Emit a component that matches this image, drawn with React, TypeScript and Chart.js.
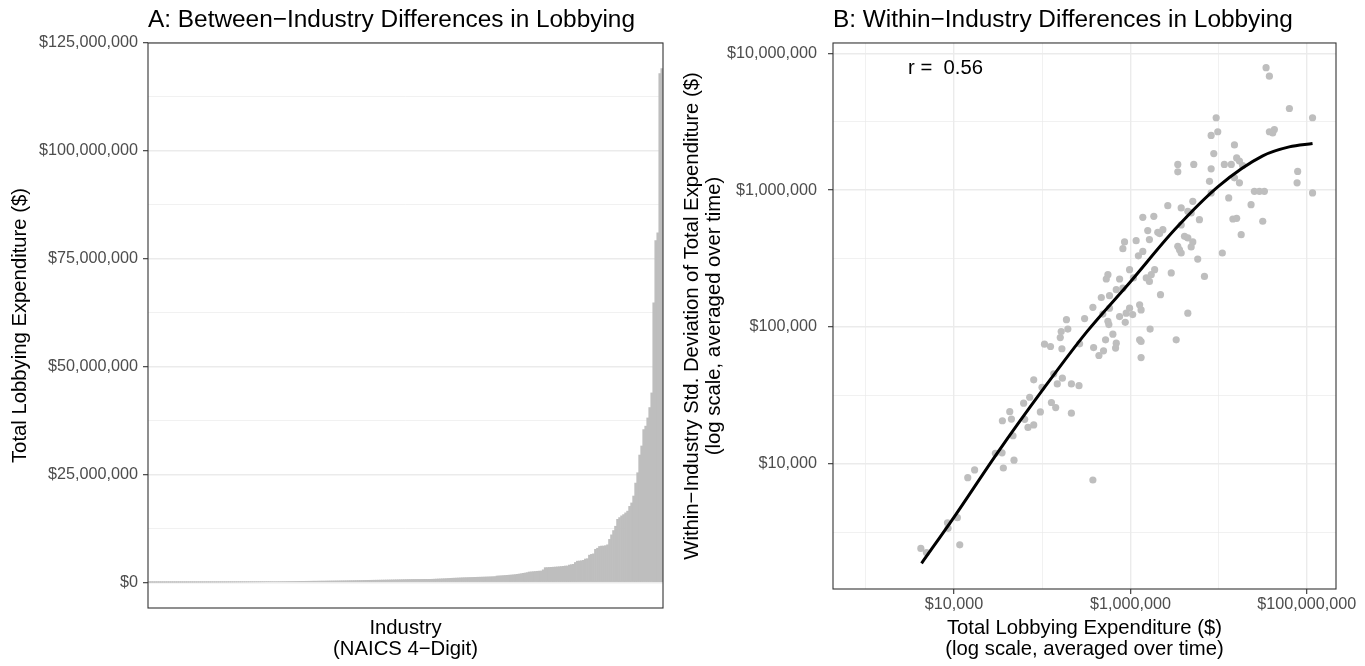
import React, { useEffect, useRef } from "react";
import { Chart, registerables } from "chart.js";

Chart.register(...registerables);

const FONT_FAMILY = '"Liberation Sans", Arial, Helvetica, sans-serif';
const TITLE_SIZE = 24.4;
const AXIS_TITLE_SIZE = 20.3;
const TICK_SIZE = 16.2;
const TICK_COLOR = "#4D4D4D";
const TICK_MARK_COLOR = "#333333";
const GRID_COLOR = "#EBEBEB";
const MARK_COLOR = "#BEBEBE";

// ---------------- Panel A ----------------
const PANEL_A_TITLE = "A: Between\u2212Industry Differences in Lobbying";
const PANEL_A_Y_TITLE = "Total Lobbying Expenditure ($)";
const PANEL_A_X_TITLE = ["Industry", "(NAICS 4\u2212Digit)"];

// Total lobbying expenditure by NAICS 4-digit industry, sorted ascending (thousands of $)
const INDUSTRY_TOTALS_LOW_K = [
  1, 2, 3, 5, 6, 8, 9, 11, 12, 14,
  15, 17, 19, 20, 22, 24, 25, 27, 29, 31,
  33, 35, 37, 39, 41, 43, 45, 47, 50, 52,
  54, 57, 59, 62, 64, 67, 70, 72, 75, 78,
  81, 84, 87, 90, 93, 96, 100, 103, 106, 110,
  113, 117, 121, 124, 128, 132, 136, 140, 144, 148,
  152, 157, 161, 165, 170, 174, 179, 183, 188, 193,
  198, 203, 208, 213, 218, 224, 229, 235, 240, 246,
  252, 258, 264, 270, 276, 282, 288, 295, 301, 308,
  315, 321, 328, 335, 342, 350, 357, 364, 372, 380,
];
const INDUSTRY_TOTALS_MID_K = [
  387, 395, 403, 411, 419, 427, 436, 444, 453, 461,
  470, 479, 488, 497, 506, 515, 525, 534, 544, 553,
  563, 573, 583, 593, 603, 613, 624, 634, 645, 655,
  661, 668, 672, 676, 679, 682, 684, 686, 688, 690,
  690, 712, 735, 760, 784, 806, 830, 853, 877, 900,
  925, 950, 972, 995, 1018, 1042, 1066, 1085, 1098, 1112,
  1125, 1140, 1155, 1170, 1186, 1202, 1218, 1235, 1252, 1270,
  1290, 1312, 1335, 1460, 1490, 1520, 1555, 1590, 1625, 1660,
  1700, 1740, 1790, 1850, 1920, 2000, 2080, 2160, 2250, 2390,
  2430, 2470, 2510, 2560, 2600, 2620, 2900, 3400, 3420, 3450,
];
const INDUSTRY_TOTALS_HIGH_K = [
  3480, 3510, 3540, 3580, 3620, 3660, 3700, 3780, 3790, 4000,
  4100, 4170, 4600, 4900, 4940, 5000, 5100, 5400, 5480, 6300,
  6480, 6600, 7640, 7900, 8300, 8400, 8410, 8500, 8700, 9950,
  11000, 12000, 13000, 14600, 15000, 15400, 15700, 16100, 16500, 17600,
  18400, 20000, 23000, 25400, 29500, 31600, 35400, 36200, 38100, 40500,
  43900, 64800, 79200, 81000, 117900, 119050,
];

const PANEL_A_Y_MIN = -5952381;
const PANEL_A_Y_MAX = 125000000;
const PANEL_A_Y_TICKS = [
  0, 12500000, 25000000, 37500000, 50000000, 62500000, 75000000, 87500000,
  100000000, 112500000, 125000000,
];
const PANEL_A_Y_LABELED = [0, 25000000, 50000000, 75000000, 100000000, 125000000];

// ---------------- Panel B ----------------
const PANEL_B_TITLE = "B: Within\u2212Industry Differences in Lobbying";
const PANEL_B_Y_TITLE = [
  "Within\u2212Industry Std. Deviation of Total Expenditure ($)",
  "(log scale, averaged over time)",
];
const PANEL_B_X_TITLE = ["Total Lobbying Expenditure ($)", "(log scale, averaged over time)"];

// Industry total expenditure (x) and within-industry std. deviation (y), in $
const INDUSTRY_SPEND = [
  3.45e7, 3.76e7, 6.34e7, 1.16e8, 9.37e6, 8.22e6, 9.77e6, 3.76e7, 4.28e7, 4.1e7,
  1.51e7, 8.8e6, 1.6e7, 1.72e7, 1.87e7, 1.16e7, 1.39e7, 3.44e6, 3.44e6, 5.22e6,
  8.22e6, 7.87e7, 7.75e7, 1.51e7, 1.72e7, 7.87e6, 2.54e7, 2.9e7, 3.3e7, 1.16e8,
  8.22e6, 1.3e7, 2.33e7, 2.65e6, 3.76e6, 5.09e6, 4.47e6, 4.88e6, 6.05e6, 1.45e7,
  1.6e7, 3.16e7, 1.38e6, 1.84e6, 3.76e6, 1.8e7, 1.57e6, 2.04e6, 2.33e6, 2.14e6,
  1.64e6, 4.1e6, 4.47e6, 8.57e5, 1.16e6, 8.2e5, 3.44e6, 3.6e6, 5.09e6, 4.88e6,
  3.76e6, 1.38e6, 1.23e6, 1.1e7, 5.79e6, 9.77e5, 1.88e6, 1.72e6, 2.9e6, 5.55e5,
  5.32e5, 7.53e5, 1.08e6, 1.51e6, 1.64e6, 6.9e6, 6.9e5, 8.2e5, 5.79e5, 4.67e5,
  2.19e6, 3.75e5, 5.79e5, 9.77e5, 1.27e6, 1.32e6, 4.47e6, 1.88e5, 3.02e5,
  7.53e5, 8.95e5, 1.06e6, 8.73e5, 4.86e5, 1.95e5, 1.64e5, 1.6e5, 1.67e5, 5.55e5,
  5.69e5, 1.67e6, 6.32e5, 5.22e5, 1.27e6, 1.32e6, 3.3e6, 6.9e5, 6.78e5, 2.65e5,
  3.82e5, 1.06e5, 1.24e5, 4.95e5, 4.39e5, 1.32e6, 8.0e4, 1.35e5, 1.69e5, 1.48e5,
  2.14e5, 2.61e5, 9.93e4, 7.2e4, 6.15e4, 1.27e5, 1.42e5, 4.28e4, 3.53e4, 4.47e4,
  9.51e4, 6.32e4, 2.14e5, 8.0e4, 6.89e4, 4.66e4, 2.94e4, 3.5e4, 4.78e4, 3.62e4,
  1.71e4, 1.43e4, 3.75e5, 1.09e4, 8.42e3, 8.55e3, 1.16e4, 4.2e3, 4.86e3,
];
const INDUSTRY_SD = [
  7.85e6, 6.81e6, 3.95e6, 3.38e6, 3.38e6, 2.51e6, 2.67e6, 2.67e6, 2.77e6, 2.62e6,
  2.14e6, 1.85e6, 1.72e6, 1.63e6, 1.51e6, 1.54e6, 1.54e6, 1.54e6, 1.36e6, 1.54e6,
  1.43e6, 1.37e6, 1.13e6, 1.23e6, 1.13e6, 1.16e6, 9.8e5, 9.8e5, 9.8e5, 9.53e5,
  9.53e5, 8.77e5, 7.83e5, 7.7e5, 7.41e5, 8.28e5, 7.0e5, 6.81e5, 6.08e5, 6.15e5,
  6.22e5, 5.92e5, 6.32e5, 6.43e5, 5.56e5, 4.72e5, 5.06e5, 4.91e5, 5.14e5, 4.81e5,
  4.35e5, 4.59e5, 4.47e5, 4.18e5, 4.27e5, 3.73e5, 3.88e5, 3.66e5, 4.18e5, 3.84e5,
  3.47e5, 3.56e5, 3.31e5, 3.47e5, 3.13e5, 2.62e5, 2.62e5, 2.41e5, 2.48e5, 2.41e5,
  2.24e5, 2.24e5, 2.28e5, 2.28e5, 2.15e5, 2.34e5, 1.87e5, 1.92e5, 1.69e5, 1.64e5,
  1.72e5, 1.39e5, 1.37e5, 1.37e5, 1.45e5, 1.33e5, 1.26e5, 1.13e5, 1.15e5,
  1.19e5, 1.26e5, 1.23e5, 1.08e5, 1.24e5, 9.64e4, 9.25e4, 8.36e4, 6.92e4, 1.1e5,
  1.04e5, 9.64e4, 8.85e4, 8.05e4, 8.05e4, 7.82e4, 8.05e4, 7.6e4, 7.0e4, 7.52e4,
  7.06e4, 7.48e4, 7.19e4, 6.68e4, 6.18e4, 5.97e4, 4.1e4, 4.54e4, 4.22e4, 3.83e4,
  3.83e4, 3.72e4, 3.62e4, 3.06e4, 2.77e4, 2.8e4, 2.57e4, 2.4e4, 2.06e4, 2.12e4,
  2.39e4, 2.11e4, 2.34e4, 1.92e4, 1.84e4, 1.6e4, 1.19e4, 1.2e4, 1.06e4, 9.3e3,
  9.0e3, 7.9e3, 7.6e3, 4.03e3, 3.7e3, 3.37e3, 2.55e3, 2.4e3, 2.24e3,
];

// Smoothed fit (loess)
const SMOOTH_SPEND = [4280, 1e4, 31600, 1e5, 316000, 1e6, 3.16e6, 1e7, 3.16e7, 6.31e7, 1.16e8];
const SMOOTH_SD = [1870, 4070, 12200, 34300, 91200, 214000, 513000, 1.07e6, 1.78e6, 2.07e6, 2.19e6];

const R_LABEL_TEXT = "r =  0.56";
const R_LABEL_X = 8000;
const R_LABEL_Y = 7.75e6;

const PANEL_B_X_MIN = 424;
const PANEL_B_X_MAX = 2.14e8;
const PANEL_B_X_TICKS = [1e3, 1e4, 1e5, 1e6, 1e7, 1e8];
const PANEL_B_X_LABELED = [1e4, 1e6, 1e8];
const PANEL_B_Y_MIN = 1213;
const PANEL_B_Y_MAX = 1.19e7;
const PANEL_B_Y_TICKS = [3162.2777, 1e4, 31622.777, 1e5, 316227.77, 1e6, 3162277.7, 1e7];
const PANEL_B_Y_LABELED = [1e4, 1e5, 1e6, 1e7];

const dollars = (v: number) => "$" + Math.round(v).toLocaleString("en-US");

const panelBorder = {
  id: "panelBorder",
  afterDatasetsDraw(chart: any) {
    const { ctx, chartArea } = chart;
    ctx.save();
    ctx.strokeStyle = TICK_MARK_COLOR;
    ctx.lineWidth = 1.1;
    ctx.strokeRect(chartArea.left, chartArea.top, chartArea.right - chartArea.left, chartArea.bottom - chartArea.top);
    ctx.restore();
  },
};

const rLabel = {
  id: "rLabel",
  afterDatasetsDraw(chart: any) {
    const { ctx, scales } = chart;
    const x = scales.x.getPixelForValue(R_LABEL_X);
    const y = scales.y.getPixelForValue(R_LABEL_Y);
    ctx.save();
    ctx.font = `${AXIS_TITLE_SIZE}px ${FONT_FAMILY}`;
    ctx.fillStyle = "#000000";
    ctx.textAlign = "center";
    ctx.textBaseline = "middle";
    ctx.fillText(R_LABEL_TEXT, x, y);
    ctx.restore();
  },
};

const tickFont = { family: FONT_FAMILY, size: TICK_SIZE };
const axisTitleFont = { family: FONT_FAMILY, size: AXIS_TITLE_SIZE, lineHeight: 1.05 };
const titleFont = { family: FONT_FAMILY, size: TITLE_SIZE, weight: "normal" as const, lineHeight: 1.2 };

function PanelA() {
  const ref = useRef<HTMLCanvasElement>(null);
  useEffect(() => {
    const totals = [...INDUSTRY_TOTALS_LOW_K, ...INDUSTRY_TOTALS_MID_K, ...INDUSTRY_TOTALS_HIGH_K].map((v) => v * 1000);
    const isMajor = (v: any) => PANEL_A_Y_LABELED.includes(v);
    const chart = new Chart(ref.current as HTMLCanvasElement, {
      type: "bar",
      data: {
        datasets: [
          {
            data: totals.map((v, i) => ({ x: i, y: v })),
            backgroundColor: MARK_COLOR,
            borderWidth: 0,
            barPercentage: 1,
            categoryPercentage: 1,
          } as any,
        ],
      },
      options: {
        responsive: false,
        animation: false,
        devicePixelRatio: 1,
        layout: { padding: { left: 0, right: 19, top: 0, bottom: 0 }, autoPadding: false },
        plugins: {
          legend: { display: false },
          tooltip: { enabled: false },
          title: {
            display: true,
            text: PANEL_A_TITLE,
            align: "start",
            fullSize: false,
            color: "#000000",
            font: titleFont,
            padding: { top: 5.4, bottom: 8.3 },
          },
        },
        scales: {
          x: {
            type: "linear",
            min: -0.6,
            max: totals.length - 0.4,
            offset: false,
            bounds: "data",
            ticks: { display: false },
            grid: { display: false, drawTicks: false },
            border: { display: false },
            title: {
              display: true,
              text: PANEL_A_X_TITLE,
              color: "#000000",
              font: axisTitleFont,
              padding: { top: 0, bottom: 6 },
            },
            afterFit: (s: any) => {
              s.height = 58;
              s.paddingLeft = 0;
              s.paddingRight = 0;
            },
          },
          y: {
            type: "linear",
            min: PANEL_A_Y_MIN,
            max: PANEL_A_Y_MAX,
            bounds: "data",
            afterBuildTicks: (s: any) => {
              s.ticks = PANEL_A_Y_TICKS.map((v) => ({ value: v }));
            },
            ticks: {
              autoSkip: false,
              padding: 5,
              color: TICK_COLOR,
              font: tickFont,
              callback: (v: any) => (isMajor(v) ? dollars(v) : ""),
            },
            grid: {
              color: GRID_COLOR,
              lineWidth: (c: any) => (isMajor(c.tick && c.tick.value) ? 1.4 : 0.7),
              drawTicks: true,
              tickLength: 5,
              tickWidth: 1.1,
              tickColor: (c: any) => (isMajor(c.tick && c.tick.value) ? TICK_MARK_COLOR : "rgba(0,0,0,0)"),
            },
            border: { display: false },
            title: {
              display: true,
              text: PANEL_A_Y_TITLE,
              color: "#000000",
              font: axisTitleFont,
              padding: { top: 9.3, bottom: 0 },
            },
            afterFit: (s: any) => {
              s.width = 148;
              s.paddingTop = 0;
              s.paddingBottom = 0;
            },
          },
        },
      } as any,
      plugins: [panelBorder],
    });
    return () => chart.destroy();
  }, []);
  return (
    <canvas
      ref={ref}
      width={682}
      height={666}
      style={{ position: "absolute", left: 0, top: 0, width: 682, height: 666 }}
    />
  );
}

function PanelB() {
  const ref = useRef<HTMLCanvasElement>(null);
  useEffect(() => {
    const xMajor = (v: any) => PANEL_B_X_LABELED.includes(v);
    const yMajor = (v: any) => PANEL_B_Y_LABELED.includes(v);
    const chart = new Chart(ref.current as HTMLCanvasElement, {
      type: "scatter",
      data: {
        datasets: [
          {
            type: "line",
            data: SMOOTH_SPEND.map((x, i) => ({ x, y: SMOOTH_SD[i] })),
            borderColor: "#000000",
            borderWidth: 3,
            pointRadius: 0,
            fill: false,
            cubicInterpolationMode: "monotone",
            order: 0,
          } as any,
          {
            type: "scatter",
            data: INDUSTRY_SPEND.map((x, i) => ({ x, y: INDUSTRY_SD[i] })),
            pointRadius: 3.6,
            pointBackgroundColor: MARK_COLOR,
            pointBorderWidth: 0,
            pointBorderColor: MARK_COLOR,
            order: 1,
          } as any,
        ],
      },
      options: {
        responsive: false,
        animation: false,
        devicePixelRatio: 1,
        layout: { padding: { left: 0, right: 29, top: 0, bottom: 0 }, autoPadding: false },
        plugins: {
          legend: { display: false },
          tooltip: { enabled: false },
          title: {
            display: true,
            text: PANEL_B_TITLE,
            align: "start",
            fullSize: false,
            color: "#000000",
            font: titleFont,
            padding: { top: 5.4, bottom: 8.3 },
          },
        },
        scales: {
          x: {
            type: "logarithmic",
            min: PANEL_B_X_MIN,
            max: PANEL_B_X_MAX,
            bounds: "data",
            afterBuildTicks: (s: any) => {
              s.ticks = PANEL_B_X_TICKS.map((v) => ({ value: v }));
            },
            ticks: {
              autoSkip: false,
              maxRotation: 0,
              minRotation: 0,
              padding: 1.3,
              color: TICK_COLOR,
              font: tickFont,
              callback: (v: any) => (xMajor(v) ? dollars(v) : ""),
            },
            grid: {
              color: GRID_COLOR,
              lineWidth: (c: any) => (xMajor(c.tick && c.tick.value) ? 1.4 : 0.7),
              drawTicks: true,
              tickLength: 5,
              tickWidth: 1.1,
              tickColor: (c: any) => (xMajor(c.tick && c.tick.value) ? TICK_MARK_COLOR : "rgba(0,0,0,0)"),
            },
            border: { display: false },
            title: {
              display: true,
              text: PANEL_B_X_TITLE,
              color: "#000000",
              font: axisTitleFont,
              padding: { top: 0, bottom: 6 },
            },
            afterFit: (s: any) => {
              s.height = 77;
              s.paddingLeft = 0;
              s.paddingRight = 0;
            },
          },
          y: {
            type: "logarithmic",
            min: PANEL_B_Y_MIN,
            max: PANEL_B_Y_MAX,
            bounds: "data",
            afterBuildTicks: (s: any) => {
              s.ticks = PANEL_B_Y_TICKS.map((v) => ({ value: v }));
            },
            ticks: {
              autoSkip: false,
              padding: 11,
              color: TICK_COLOR,
              font: tickFont,
              callback: (v: any) => (yMajor(v) ? dollars(v) : ""),
            },
            grid: {
              color: GRID_COLOR,
              lineWidth: (c: any) => (yMajor(c.tick && c.tick.value) ? 1.4 : 0.7),
              drawTicks: true,
              tickLength: 5,
              tickWidth: 1.1,
              tickColor: (c: any) => (yMajor(c.tick && c.tick.value) ? TICK_MARK_COLOR : "rgba(0,0,0,0)"),
            },
            border: { display: false },
            title: {
              display: true,
              text: PANEL_B_Y_TITLE,
              color: "#000000",
              font: axisTitleFont,
              padding: { top: 0, bottom: 0 },
            },
            afterFit: (s: any) => {
              s.width = 151;
              s.paddingTop = 0;
              s.paddingBottom = 0;
            },
          },
        },
      } as any,
      plugins: [rLabel, panelBorder],
    });
    return () => chart.destroy();
  }, []);
  return (
    <canvas
      ref={ref}
      width={683}
      height={666}
      style={{ position: "absolute", left: 682, top: 0, width: 683, height: 666 }}
    />
  );
}

export default function App() {
  return (
    <div
      style={{
        position: "fixed",
        left: 0,
        top: 0,
        width: 1365,
        height: 666,
        background: "#ffffff",
        overflow: "hidden",
      }}
    >
      <PanelA />
      <PanelB />
    </div>
  );
}
